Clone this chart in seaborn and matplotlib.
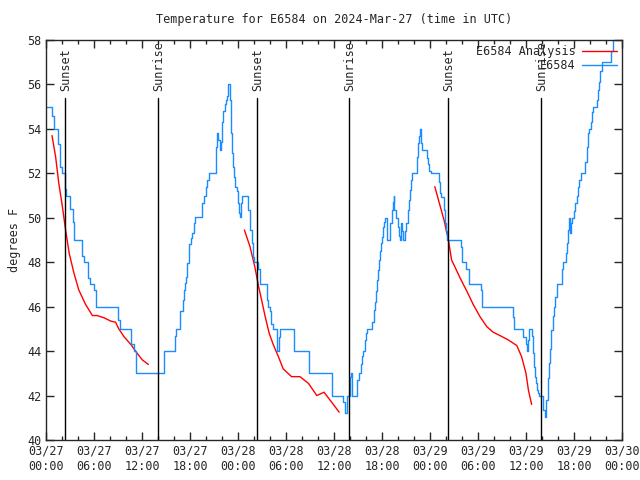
import matplotlib
matplotlib.use("Agg")
import matplotlib.pyplot as plt
import seaborn as sns
import numpy as np
import pandas as pd

# observed temperature (hours since 03/27 00:00 UTC, value held until next time)
obs_hours = [0.0, 0.8, 1.0, 1.55, 1.75, 2.05, 2.4, 2.5, 3.0, 3.35, 3.5, 4.55, 4.8, 5.3, 5.55,
             6.0, 6.2, 9.0, 9.25, 10.6, 11.0, 11.2, 14.75, 16.1, 16.3, 16.75, 17.1, 17.25, 17.4,
             17.55, 17.65, 17.9, 18.1, 18.3, 18.45, 18.6, 19.55, 19.8, 19.95, 20.1, 20.35, 21.3,
             21.4, 21.5, 21.75, 21.9, 22.05, 22.15, 22.35, 22.45, 22.6, 22.75, 22.95, 23.1, 23.25,
             23.4, 23.5, 23.6, 23.85, 24.05, 24.15, 24.3, 24.4, 24.55, 25.25, 25.5, 25.7, 25.9,
             26.0, 26.55, 26.75, 27.6, 27.75, 27.95, 28.1, 28.35, 28.9, 29.15, 29.3, 31.05, 32.85,
             35.75, 37.15, 37.4, 37.6, 38.0, 38.1, 38.3, 38.9, 39.1, 39.35, 39.5, 39.65, 39.85,
             39.95, 40.1, 40.7, 40.95, 41.1, 41.25, 41.4, 41.5, 41.6, 41.75, 41.85, 42.0, 42.15,
             42.3, 42.4, 42.6, 43.0, 43.2, 43.35, 43.45, 43.55, 43.7, 44.05, 44.15, 44.3, 44.4,
             44.5, 44.6, 44.9, 45.0, 45.2, 45.35, 45.45, 45.6, 45.7, 46.4, 46.55, 46.65, 46.75,
             46.9, 47.0, 47.65, 47.8, 47.9, 48.1, 49.15, 49.3, 49.4, 49.75, 49.9, 50.05, 50.15,
             51.9, 52.05, 52.55, 52.9, 54.4, 54.55, 58.4, 58.55, 59.65, 60.0, 60.1, 60.25, 60.4,
             60.75, 60.85, 61.0, 61.1, 61.25, 61.4, 61.55, 61.65, 62.15, 62.4, 62.55, 62.7, 62.9,
             63.05, 63.15, 63.35, 63.5, 63.65, 63.85, 64.45, 64.6, 64.95, 65.1, 65.3, 65.4, 65.55,
             65.65, 65.8, 65.95, 66.1, 66.35, 66.5, 66.65, 66.85, 67.4, 67.65, 67.8, 67.9, 68.1,
             68.25, 68.4, 68.9, 69.05, 69.15, 69.3, 69.45, 70.65, 70.85, 71.0]
obs_temps = [55.0, 54.6, 54.0, 53.3, 52.3, 52.0, 51.3, 51.0, 50.4, 49.8, 49.0, 48.3, 48.0, 47.3, 47.0,
             46.75, 46.0, 45.4, 45.0, 44.3, 44.0, 43.0, 44.0, 44.7, 45.0, 45.8, 46.3, 46.75, 47.05,
             47.35, 47.95, 48.8, 49.1, 49.3, 49.75, 50.05, 50.65, 51.0, 51.4, 51.7, 52.0, 53.2,
             53.8, 53.5, 53.05, 53.4, 54.3, 54.8, 55.1, 55.3, 55.5, 56.0, 55.3, 53.8, 52.9,
             52.3, 51.85, 51.4, 51.2, 50.65, 50.2, 50.05, 50.65, 51.0, 50.35, 49.45, 48.85, 48.25,
             48.0, 47.7, 47.0, 46.3, 46.0, 45.8, 45.2, 45.0, 44.0, 44.65, 45.0, 44.0, 43.0,
             42.0, 41.7, 41.2, 42.0, 42.85, 43.0, 42.0, 42.7, 43.0, 43.4, 43.8, 44.0, 44.5,
             44.8, 45.0, 45.3, 45.85, 46.2, 46.7, 47.2, 47.65, 48.1, 48.5, 48.85, 49.15, 49.6,
             49.8, 50.0, 49.0, 49.75, 50.35, 50.7, 51.0, 50.35, 50.0, 49.6, 49.2, 49.0, 49.75,
             49.4, 49.0, 49.4, 49.75, 50.35, 50.8, 51.25, 51.7, 52.0, 52.75, 53.35, 53.7, 54.0,
             53.35, 53.05, 52.7, 52.4, 52.1, 52.0, 51.6, 51.1, 50.95, 50.35, 49.75, 49.4, 49.0,
             48.7, 48.0, 47.7, 47.0, 46.75, 46.0, 45.55, 45.0, 44.65, 44.3, 44.0, 44.5, 45.0,
             44.7, 43.9, 43.3, 42.85, 42.55, 42.25, 42.1, 42.0, 41.35, 41.05, 41.8, 42.8, 43.45,
             44.1, 44.95, 45.6, 46.0, 46.45, 47.0, 47.7, 48.0, 48.4, 48.85, 49.45, 50.0, 49.3,
             49.75, 50.0, 50.3, 50.65, 51.0, 51.4, 51.7, 52.0, 52.5, 53.2, 53.8, 54.0, 54.3,
             54.75, 55.0, 55.3, 55.75, 56.1, 56.6, 57.0, 57.5, 58.2, 58.2]

# analysis curve, three separate runs
ana_hours = [
    [0.75, 1.2, 1.6, 2.05, 2.45, 2.9, 3.5, 4.1, 4.95, 5.8, 6.4, 7.25, 8.1, 8.7, 9.1, 9.75,
     10.6, 11.4, 12.05, 12.8],
    [24.8, 25.5, 26.1, 26.55, 26.95, 27.4, 27.9, 28.4, 29.05, 29.65, 30.7, 31.75, 32.8,
     33.85, 34.75, 35.5, 36.65],
    [48.6, 49.75, 50.3, 50.7, 51.1, 51.75, 52.6, 53.4, 54.25, 55.1, 55.9, 56.75, 57.8,
     58.85, 59.45, 60.0, 60.3, 60.7],
]
ana_temps = [
    [53.7, 52.75, 51.55, 50.5, 49.45, 48.4, 47.5, 46.75, 46.1, 45.6, 45.6, 45.5, 45.35,
     45.3, 45.0, 44.65, 44.3, 43.9, 43.6, 43.4],
    [49.45, 48.7, 47.8, 46.95, 46.3, 45.55, 44.8, 44.3, 43.75, 43.2, 42.85, 42.85, 42.55,
     42.0, 42.15, 41.8, 41.25],
    [51.4, 49.9, 49.0, 48.1, 47.8, 47.3, 46.7, 46.1, 45.55, 45.1, 44.85, 44.7, 44.5,
     44.25, 43.75, 43.0, 42.25, 41.6],
]

sun_hours = [2.4, 14.0, 26.4, 37.9, 50.3, 61.9]
sun_labels = ["Sunset", "Sunrise", "Sunset", "Sunrise", "Sunset", "Sunrise"]

tick_hours = list(range(0, 73, 6))
tick_labels = ["03/27\n00:00", "03/27\n06:00", "03/27\n12:00", "03/27\n18:00",
               "03/28\n00:00", "03/28\n06:00", "03/28\n12:00", "03/28\n18:00",
               "03/29\n00:00", "03/29\n06:00", "03/29\n12:00", "03/29\n18:00",
               "03/30\n00:00"]

sns.set_style("ticks")
plt.rcParams["font.family"] = ["DejaVu Sans Mono"]
plt.rcParams["font.size"] = 8

fig = plt.figure(figsize=(6.4, 4.8), dpi=100)
ax = fig.add_axes([46 / 640, 40 / 480, 576 / 640, 400 / 480])

obs = pd.DataFrame({"hour": obs_hours, "temp": obs_temps})
for i, (h, t) in enumerate(zip(ana_hours, ana_temps)):
    seg = pd.DataFrame({"hour": h, "temp": t})
    sns.lineplot(data=seg, x="hour", y="temp", ax=ax, color="#ff0000", lw=1,
                 sort=False, label="E6584 Analysis" if i == 0 else None)
sns.lineplot(data=obs, x="hour", y="temp", ax=ax, color="#1a8cff", lw=1,
             sort=False, drawstyle="steps-post", label="E6584")

for h, lab in zip(sun_hours, sun_labels):
    ax.plot([h, h], [40, 55.4], color="black", lw=1)
    ax.text(h + 0.1, 55.7, lab, rotation=90, ha="center", va="bottom", fontsize=8.5)

ax.set_xlim(0, 72)
ax.set_ylim(40, 58)
ax.set_xticks(tick_hours)
ax.set_xticklabels(tick_labels)
ax.set_xticks(range(0, 73, 2), minor=True)
ax.set_yticks(range(40, 59, 2))
ax.tick_params(which="both", direction="in", top=True, right=True, labelsize=8.5, width=1)
ax.tick_params(which="major", length=6)
ax.tick_params(which="minor", length=3)
for sp in ax.spines.values():
    sp.set_linewidth(1)

ax.set_xlabel("")
ax.set_ylabel("degrees F", fontsize=8.5)
ax.set_title("Temperature for E6584 on 2024-Mar-27 (time in UTC)", fontsize=8.5, pad=12)

ax.legend(loc="upper right", frameon=False, markerfirst=False, fontsize=8.5,
          handlelength=3, borderaxespad=0.0, labelspacing=0.1, handletextpad=0.5)

fig.savefig("out.png", dpi=100)
